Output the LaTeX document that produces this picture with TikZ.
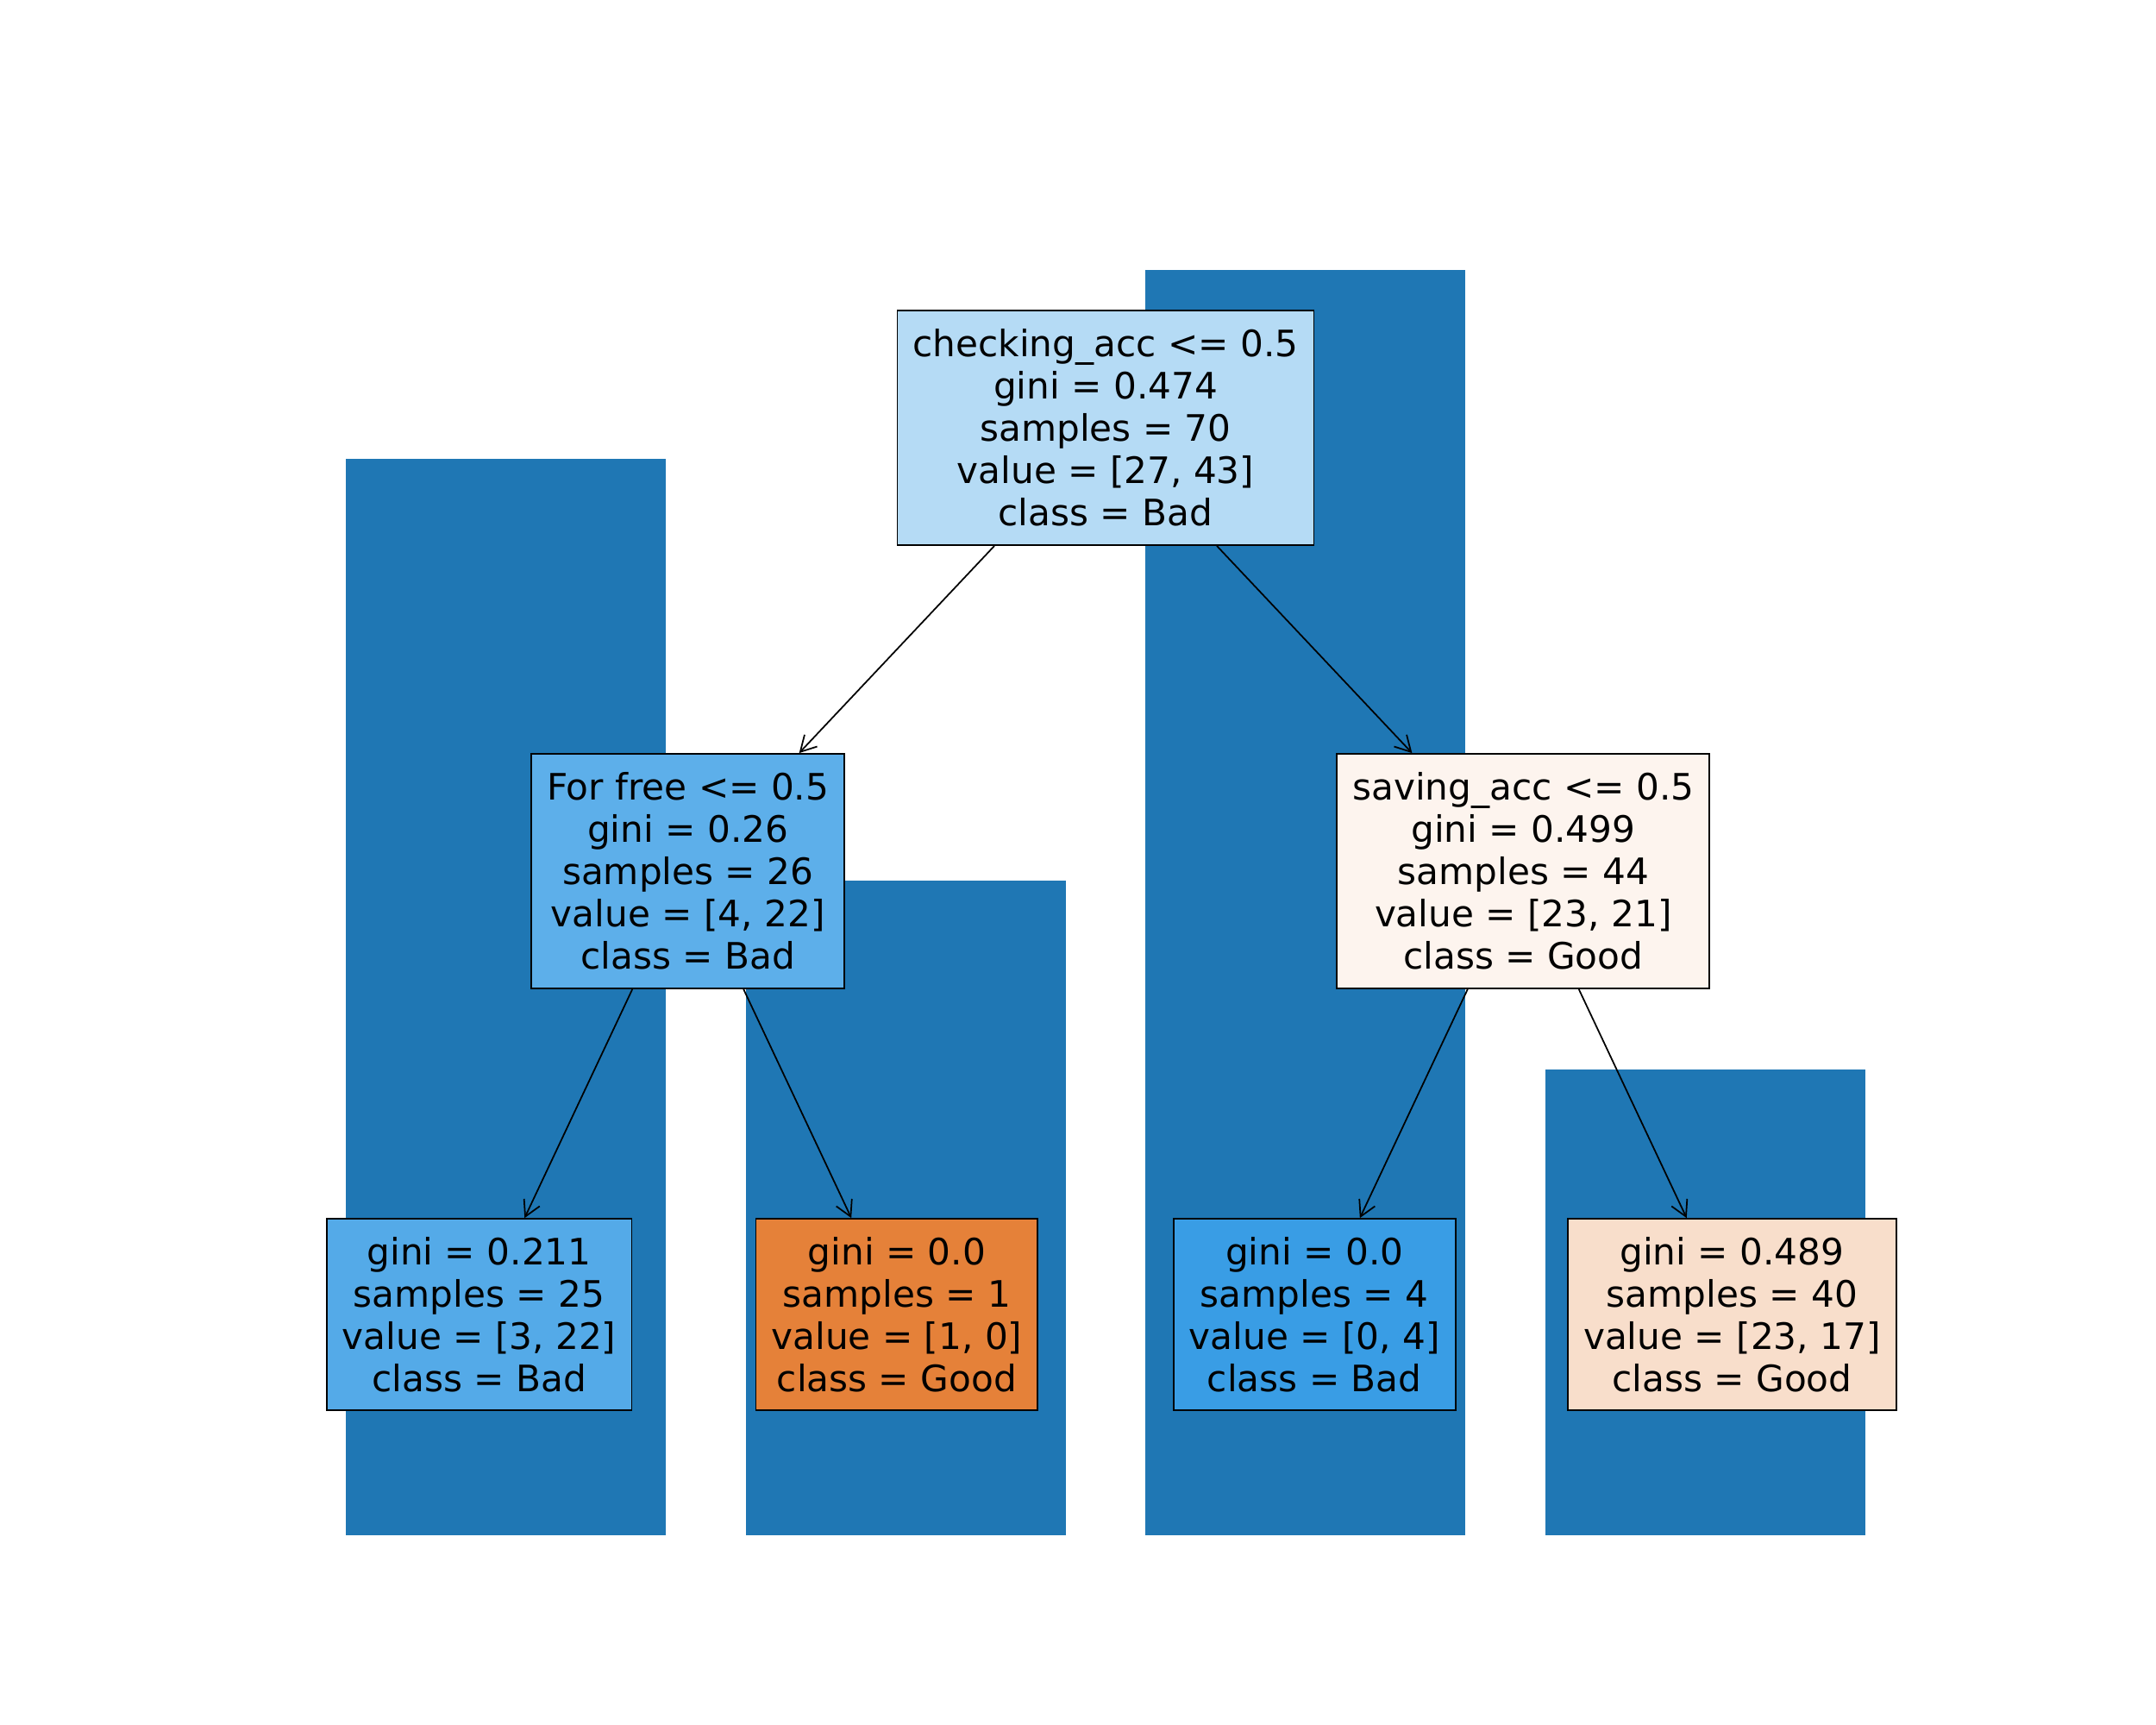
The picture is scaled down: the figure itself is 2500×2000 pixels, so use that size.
\documentclass[tikz,border=0pt]{standalone}
\usepackage{fontspec}
\setmainfont{DejaVu Sans}
\usetikzlibrary{arrows.meta}
\usetikzlibrary{positioning}
\definecolor{barblue}{RGB}{31,119,180}
\definecolor{rootfill}{RGB}{181,219,245}
\definecolor{freefill}{RGB}{93,175,234}
\definecolor{savingfill}{RGB}{253,244,238}
\definecolor{badleaf}{RGB}{84,170,232}
\definecolor{goodleaf}{RGB}{229,129,57}
\definecolor{pureleaf}{RGB}{57,157,229}
\definecolor{mixleaf}{RGB}{248,222,203}
\tikzstyle{split} = [rectangle, minimum height=2.72cm, inner xsep=0.18cm, align=center, draw=black, line width=0.5pt, font=\fontsize{12}{13.94}\selectfont]
\tikzstyle{leaf} = [rectangle, minimum height=2.22cm, inner xsep=0.18cm, align=center, draw=black, line width=0.5pt, font=\fontsize{12}{13.94}\selectfont]
\tikzstyle{barrect} = [fill=barblue]
\tikzstyle{arrow} = [line width=0.5pt, -{Straight Barb[length=0.18cm,width=0.2cm]}]

\begin{document}
\begin{tikzpicture}[x=0.01cm, y=-0.01cm, node distance=2.40cm]
		\useasboundingbox (0,0) rectangle (2500,2000);
		% bars behind the tree
		\fill[barrect] (401,532) rectangle ++(371,1248);
		\fill[barrect] (864.7,1021) rectangle ++(371,759);
		\fill[barrect] (1328.4,313) rectangle ++(371,1467);
		\fill[barrect] (1792,1240) rectangle ++(371,540);

		\node (checking_acc) [split, fill=rootfill] at (1282,496) {checking\_acc <= 0.5\\gini = 0.474\\samples = 70\\value = [27, 43]\\class = Bad};

		\node (for_free) [split, fill=freefill, below=of checking_acc, xshift=-4.84cm] {For free <= 0.5\\gini = 0.26\\samples = 26\\value = [4, 22]\\class = Bad};
		\node (saving_acc) [split, fill=savingfill, below=of checking_acc, xshift=4.84cm] {saving\_acc <= 0.5\\gini = 0.499\\samples = 44\\value = [23, 21]\\class = Good};

		\node (leaf_bad) [leaf, fill=badleaf, below=2.65cm of for_free, xshift=-2.42cm] {gini = 0.211\\samples = 25\\value = [3, 22]\\class = Bad};
		\node (leaf_good) [leaf, fill=goodleaf, below=2.65cm of for_free, xshift=2.42cm] {gini = 0.0\\samples = 1\\value = [1, 0]\\class = Good};
		\node (leaf_pure) [leaf, fill=pureleaf, below=2.65cm of saving_acc, xshift=-2.42cm] {gini = 0.0\\samples = 4\\value = [0, 4]\\class = Bad};
		\node (leaf_mix) [leaf, fill=mixleaf, below=2.65cm of saving_acc, xshift=2.42cm] {gini = 0.489\\samples = 40\\value = [23, 17]\\class = Good};

		\draw [arrow] (checking_acc) -- (for_free);
		\draw [arrow] (checking_acc) -- (saving_acc);
		\draw [arrow] (for_free) -- (leaf_bad);
		\draw [arrow] (for_free) -- (leaf_good);
		\draw [arrow] (saving_acc) -- (leaf_pure);
		\draw [arrow] (saving_acc) -- (leaf_mix);
	\end{tikzpicture}
\end{document}
